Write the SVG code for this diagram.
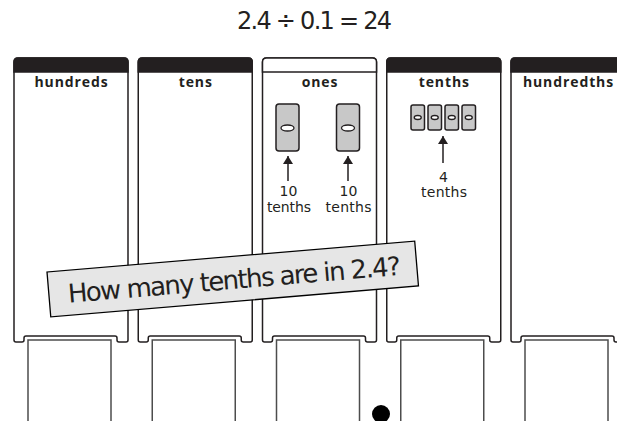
<svg xmlns="http://www.w3.org/2000/svg" xmlns:xlink="http://www.w3.org/1999/xlink" width="617" height="421" viewBox="0 0 617 421">
<style>
.col{fill:#fff;stroke:#231f20;stroke-width:1.5}
.hdr{fill:#231f20;stroke:#231f20;stroke-width:1.5}
.box{fill:#fff;stroke:#4d4d4d;stroke-width:1.5}
.lbl{font-family:"Open Sans","DejaVu Sans",sans-serif;font-weight:700;font-size:14px;letter-spacing:0.9px;fill:#231f20;text-anchor:middle}
.hand{font-family:"DejaVu Sans","Liberation Sans",sans-serif;fill:#231f20;text-anchor:middle}
.chip{fill:#c8c8c8;stroke:#231f20;stroke-width:1.5}
.hole{fill:#fff;stroke:#231f20;stroke-width:1.3}
.arr{stroke:#231f20;stroke-width:1.5;fill:none}
</style>
<defs>
<path id="body" d="M4,58 H110 Q114,58 114,62 V340 Q114,342 112,342 H105 Q103,342 103,340 V338 Q103,336 101,336 H12 Q10,336 10,338 V340 Q10,342 8,342 H2 Q0,342 0,340 V62 Q0,58 4,58 Z"/>
<path id="head" d="M0,72 V62 Q0,58 4,58 H110 Q114,58 114,62 V72 Z"/>
<marker id="ah" viewBox="0 0 8 10" refX="8" refY="5" markerWidth="8" markerHeight="10" markerUnits="userSpaceOnUse" orient="auto">
<path d="M0,0 L8,5 L0,10 Z" fill="#231f20"/>
</marker>
</defs>

<text id="title" class="hand" x="314.5" y="29" font-size="24" textLength="155">2.4 ÷ 0.1 = 24</text>

<g id="hundreds" transform="translate(14,0)">
<use href="#body" class="col"/><use href="#head" class="hdr"/>
<text class="lbl" x="57.5" y="87">hundreds</text>
<rect class="box" x="14" y="340" width="83" height="90"/>
</g>
<g id="tens" transform="translate(138.25,0)">
<use href="#body" class="col"/><use href="#head" class="hdr"/>
<text class="lbl" x="57.5" y="87">tens</text>
<rect class="box" x="14" y="340" width="83" height="90"/>
</g>
<g id="ones" transform="translate(262.5,0)">
<use href="#body" class="col"/><use href="#head" class="col"/>
<text class="lbl" x="57.5" y="87">ones</text>
<rect class="box" x="14" y="340" width="83" height="90"/>
</g>
<g id="tenths" transform="translate(386.75,0)">
<use href="#body" class="col"/><use href="#head" class="hdr"/>
<text class="lbl" x="57.5" y="87">tenths</text>
<rect class="box" x="14" y="340" width="83" height="90"/>
</g>
<g id="hundredths" transform="translate(511,0)">
<use href="#body" class="col"/><use href="#head" class="hdr"/>
<text class="lbl" x="57.5" y="87">hundredths</text>
<rect class="box" x="14" y="340" width="83" height="90"/>
</g>

<g id="one-1">
<rect class="chip" x="276" y="104" width="23" height="47" rx="3"/>
<ellipse class="hole" cx="287.5" cy="128" rx="6.5" ry="3"/>
</g>
<g id="one-2">
<rect class="chip" x="336.5" y="104" width="23" height="47" rx="3"/>
<ellipse class="hole" cx="348" cy="128" rx="6.5" ry="3"/>
</g>
<g id="tenth-chips">
<rect class="chip" x="411" y="105" width="13.5" height="25" rx="2"/>
<ellipse class="hole" cx="417.75" cy="117.5" rx="3.5" ry="2"/>
<rect class="chip" x="428" y="105" width="13.5" height="25" rx="2"/>
<ellipse class="hole" cx="434.75" cy="117.5" rx="3.5" ry="2"/>
<rect class="chip" x="445" y="105" width="13.5" height="25" rx="2"/>
<ellipse class="hole" cx="451.75" cy="117.5" rx="3.5" ry="2"/>
<rect class="chip" x="462" y="105" width="13.5" height="25" rx="2"/>
<ellipse class="hole" cx="468.75" cy="117.5" rx="3.5" ry="2"/>
</g>

<g id="connectors">
<line class="arr" x1="288" y1="181" x2="288" y2="156" marker-end="url(#ah)"/>
<line class="arr" x1="348" y1="181" x2="348" y2="156" marker-end="url(#ah)"/>
<line class="arr" x1="443" y1="163" x2="443" y2="136" marker-end="url(#ah)"/>
</g>

<g id="labels">
<text class="hand" x="288.5" y="196" font-size="14">10</text>
<text class="hand" x="289" y="212" font-size="14" textLength="44">tenths</text>
<text class="hand" x="348.5" y="196" font-size="14">10</text>
<text class="hand" x="348.5" y="212" font-size="14" textLength="46">tenths</text>
<text class="hand" x="443.5" y="182" font-size="14">4</text>
<text class="hand" x="444" y="197" font-size="14" textLength="46">tenths</text>
</g>

<g id="question" transform="translate(47,272) rotate(-4.8)">
<rect x="0" y="0" width="369" height="45" fill="#e6e6e6" stroke="#000" stroke-width="1.3"/>
<text class="hand" x="186" y="32.5" font-size="26" textLength="334">How many tenths are in 2.4?</text>
</g>

<circle id="decimal-point" cx="381" cy="414" r="9" fill="#000"/>
</svg>
